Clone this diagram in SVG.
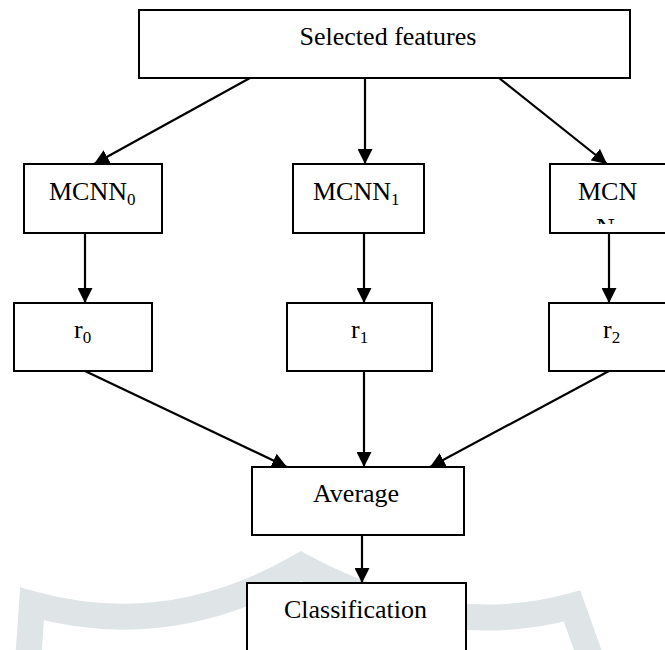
<svg xmlns="http://www.w3.org/2000/svg" width="665" height="650" viewBox="0 0 665 650">
<style>
.box{fill:#fff;stroke:#000;stroke-width:2}
.lbl{font-family:"Liberation Serif","Times New Roman",serif;font-size:26px;fill:#000}
.sub{font-size:17px}
.conn{stroke:#000;stroke-width:2.2;fill:none;marker-end:url(#arr)}
</style>
<defs>
<marker id="arr" viewBox="0 0 10 10" refX="10" refY="5" markerUnits="userSpaceOnUse" markerWidth="15" markerHeight="15" orient="auto">
<path d="M0,0 L10,5 L0,10 Z" fill="#000"/>
</marker>
<clipPath id="clipN"><rect x="550" y="164" width="115" height="60"/></clipPath>
</defs>
<rect width="665" height="650" fill="#fff"/>
<path d="M 28,662 L 32,604 Q 170,642 301,566 Q 440,642 572,606 L 592,662" fill="none" stroke="#dfe4e7" stroke-width="26" stroke-linejoin="miter" stroke-miterlimit="10"/>
<g id="connectors">
<line class="conn" x1="250" y1="78" x2="94" y2="164"/>
<line class="conn" x1="365" y1="78" x2="365" y2="164"/>
<line class="conn" x1="499" y1="78" x2="607" y2="164"/>
<line class="conn" x1="85" y1="233" x2="85" y2="303"/>
<line class="conn" x1="364" y1="233" x2="364" y2="303"/>
<line class="conn" x1="609" y1="233" x2="609" y2="303"/>
<line class="conn" x1="85" y1="371" x2="287" y2="467"/>
<line class="conn" x1="364" y1="371" x2="364" y2="467"/>
<line class="conn" x1="609" y1="371" x2="430" y2="467"/>
<line class="conn" x1="362" y1="535" x2="362" y2="583"/>
</g>
<g id="selected-features">
<rect class="box" x="139" y="10" width="491" height="68"/>
<text class="lbl" x="388" y="45" text-anchor="middle">Selected features</text>
</g>
<g id="mcnn0">
<rect class="box" x="24" y="164" width="138" height="69"/>
<text class="lbl" x="49" y="200">MCNN<tspan class="sub" dy="5">0</tspan></text>
</g>
<g id="mcnn1">
<rect class="box" x="293" y="164" width="131" height="69"/>
<text class="lbl" x="313" y="200">MCNN<tspan class="sub" dy="5">1</tspan></text>
</g>
<g id="mcnnN">
<rect class="box" x="550" y="164" width="120" height="69"/>
<text class="lbl" x="578" y="200">MCN</text>
<text class="lbl" x="596" y="236" clip-path="url(#clipN)">N</text>
</g>
<g id="r0">
<rect class="box" x="14" y="303" width="138" height="68"/>
<text class="lbl" x="74" y="338">r<tspan class="sub" dy="5">0</tspan></text>
</g>
<g id="r1">
<rect class="box" x="287" y="303" width="145" height="68"/>
<text class="lbl" x="351" y="338">r<tspan class="sub" dy="5">1</tspan></text>
</g>
<g id="r2">
<rect class="box" x="549" y="303" width="121" height="68"/>
<text class="lbl" x="603" y="338">r<tspan class="sub" dy="5">2</tspan></text>
</g>
<g id="average">
<rect class="box" x="252" y="467" width="212" height="68"/>
<text class="lbl" x="313" y="502">Average</text>
</g>
<g id="classification">
<rect class="box" x="247" y="583" width="219" height="80"/>
<text class="lbl" x="284" y="618">Classification</text>
</g>
</svg>
